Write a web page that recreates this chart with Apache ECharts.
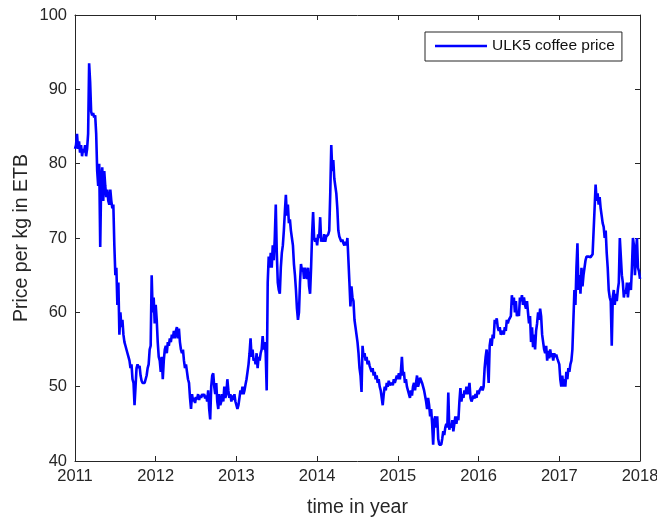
<!DOCTYPE html>
<html>
<head>
<meta charset="utf-8">
<script src="https://cdn.jsdelivr.net/npm/echarts@6/dist/echarts.min.js"></script>
<style>
html,body{margin:0;padding:0;background:#fff;}
#chart{width:657px;height:518px;}
</style>
</head>
<body>
<div id="chart"></div>
<script>
// Sampling dates (decimal years)
const years = [
2011, 2011.0125, 2011.025, 2011.0375, 2011.05, 2011.0625, 2011.075, 2011.0875, 2011.1, 2011.1125, 2011.125, 2011.1375, 2011.15, 2011.1625, 2011.175, 2011.1875, 2011.2, 2011.2125, 2011.225, 2011.2375, 2011.25, 2011.2625, 2011.275, 2011.2875, 2011.3, 2011.3125, 2011.325, 2011.3375, 2011.35, 2011.3625, 2011.375, 2011.3875, 2011.4, 2011.4125, 2011.425, 2011.4375, 2011.45, 2011.4625, 2011.475, 2011.4875, 2011.5, 2011.5125, 2011.525, 2011.5375, 2011.55, 2011.5625, 2011.575, 2011.5875, 2011.6, 2011.6125, 2011.625, 2011.6375, 2011.65, 2011.6625, 2011.675, 2011.6875, 2011.7, 2011.7125, 2011.725, 2011.7375, 2011.75, 2011.7625, 2011.775, 2011.7875, 2011.8, 2011.8125, 2011.825, 2011.8375, 2011.85, 2011.8625, 2011.875, 2011.8875, 2011.9, 2011.9125, 2011.925, 2011.9375, 2011.95, 2011.9625, 2011.975, 2011.9875,
2012, 2012.0125, 2012.025, 2012.0375, 2012.05, 2012.0625, 2012.075, 2012.0875, 2012.1, 2012.1125, 2012.125, 2012.1375, 2012.15, 2012.1625, 2012.175, 2012.1875, 2012.2, 2012.2125, 2012.225, 2012.2375, 2012.25, 2012.2625, 2012.275, 2012.2875, 2012.3, 2012.3125, 2012.325, 2012.3375, 2012.35, 2012.3625, 2012.375, 2012.3875, 2012.4, 2012.4125, 2012.425, 2012.4375, 2012.45, 2012.4625, 2012.475, 2012.4875, 2012.5, 2012.5125, 2012.525, 2012.5375, 2012.55, 2012.5625, 2012.575, 2012.5875, 2012.6, 2012.6125, 2012.625, 2012.6375, 2012.65, 2012.6625, 2012.675, 2012.6875, 2012.7, 2012.7125, 2012.725, 2012.7375, 2012.75, 2012.7625, 2012.775, 2012.7875, 2012.8, 2012.8125, 2012.825, 2012.8375, 2012.85, 2012.8625, 2012.875, 2012.8875, 2012.9, 2012.9125, 2012.925, 2012.9375, 2012.95, 2012.9625, 2012.975, 2012.9875,
2013, 2013.0125, 2013.025, 2013.0375, 2013.05, 2013.0625, 2013.075, 2013.0875, 2013.1, 2013.1125, 2013.125, 2013.1375, 2013.15, 2013.1625, 2013.175, 2013.1875, 2013.2, 2013.2125, 2013.225, 2013.2375, 2013.25, 2013.2625, 2013.275, 2013.2875, 2013.3, 2013.3125, 2013.325, 2013.3375, 2013.35, 2013.3625, 2013.375, 2013.3875, 2013.4, 2013.4125, 2013.425, 2013.4375, 2013.45, 2013.4625, 2013.475, 2013.4875, 2013.5, 2013.5125, 2013.525, 2013.5375, 2013.55, 2013.5625, 2013.575, 2013.5875, 2013.6, 2013.6125, 2013.625, 2013.6375, 2013.65, 2013.6625, 2013.675, 2013.6875, 2013.7, 2013.7125, 2013.725, 2013.7375, 2013.75, 2013.7625, 2013.775, 2013.7875, 2013.8, 2013.8125, 2013.825, 2013.8375, 2013.85, 2013.8625, 2013.875, 2013.8875, 2013.9, 2013.9125, 2013.925, 2013.9375, 2013.95, 2013.9625, 2013.975, 2013.9875,
2014, 2014.0125, 2014.025, 2014.0375, 2014.05, 2014.0625, 2014.075, 2014.0875, 2014.1, 2014.1125, 2014.125, 2014.1375, 2014.15, 2014.1625, 2014.175, 2014.1875, 2014.2, 2014.2125, 2014.225, 2014.2375, 2014.25, 2014.2625, 2014.275, 2014.2875, 2014.3, 2014.3125, 2014.325, 2014.3375, 2014.35, 2014.3625, 2014.375, 2014.3875, 2014.4, 2014.4125, 2014.425, 2014.4375, 2014.45, 2014.4625, 2014.475, 2014.4875, 2014.5, 2014.5125, 2014.525, 2014.5375, 2014.55, 2014.5625, 2014.575, 2014.5875, 2014.6, 2014.6125, 2014.625, 2014.6375, 2014.65, 2014.6625, 2014.675, 2014.6875, 2014.7, 2014.7125, 2014.725, 2014.7375, 2014.75, 2014.7625, 2014.775, 2014.7875, 2014.8, 2014.8125, 2014.825, 2014.8375, 2014.85, 2014.8625, 2014.875, 2014.8875, 2014.9, 2014.9125, 2014.925, 2014.9375, 2014.95, 2014.9625, 2014.975, 2014.9875,
2015, 2015.0125, 2015.025, 2015.0375, 2015.05, 2015.0625, 2015.075, 2015.0875, 2015.1, 2015.1125, 2015.125, 2015.1375, 2015.15, 2015.1625, 2015.175, 2015.1875, 2015.2, 2015.2125, 2015.225, 2015.2375, 2015.25, 2015.2625, 2015.275, 2015.2875, 2015.3, 2015.3125, 2015.325, 2015.3375, 2015.35, 2015.3625, 2015.375, 2015.3875, 2015.4, 2015.4125, 2015.425, 2015.4375, 2015.45, 2015.4625, 2015.475, 2015.4875, 2015.5, 2015.5125, 2015.525, 2015.5375, 2015.55, 2015.5625, 2015.575, 2015.5875, 2015.6, 2015.6125, 2015.625, 2015.6375, 2015.65, 2015.6625, 2015.675, 2015.6875, 2015.7, 2015.7125, 2015.725, 2015.7375, 2015.75, 2015.7625, 2015.775, 2015.7875, 2015.8, 2015.8125, 2015.825, 2015.8375, 2015.85, 2015.8625, 2015.875, 2015.8875, 2015.9, 2015.9125, 2015.925, 2015.9375, 2015.95, 2015.9625, 2015.975, 2015.9875,
2016, 2016.0125, 2016.025, 2016.0375, 2016.05, 2016.0625, 2016.075, 2016.0875, 2016.1, 2016.1125, 2016.125, 2016.1375, 2016.15, 2016.1625, 2016.175, 2016.1875, 2016.2, 2016.2125, 2016.225, 2016.2375, 2016.25, 2016.2625, 2016.275, 2016.2875, 2016.3, 2016.3125, 2016.325, 2016.3375, 2016.35, 2016.3625, 2016.375, 2016.3875, 2016.4, 2016.4125, 2016.425, 2016.4375, 2016.45, 2016.4625, 2016.475, 2016.4875, 2016.5, 2016.5125, 2016.525, 2016.5375, 2016.55, 2016.5625, 2016.575, 2016.5875, 2016.6, 2016.6125, 2016.625, 2016.6375, 2016.65, 2016.6625, 2016.675, 2016.6875, 2016.7, 2016.7125, 2016.725, 2016.7375, 2016.75, 2016.7625, 2016.775, 2016.7875, 2016.8, 2016.8125, 2016.825, 2016.8375, 2016.85, 2016.8625, 2016.875, 2016.8875, 2016.9, 2016.9125, 2016.925, 2016.9375, 2016.95, 2016.9625, 2016.975, 2016.9875,
2017, 2017.0125, 2017.025, 2017.0375, 2017.05, 2017.0625, 2017.075, 2017.0875, 2017.1, 2017.1125, 2017.125, 2017.1375, 2017.15, 2017.1625, 2017.175, 2017.1875, 2017.2, 2017.2125, 2017.225, 2017.2375, 2017.25, 2017.2625, 2017.275, 2017.2875, 2017.3, 2017.3125, 2017.325, 2017.3375, 2017.35, 2017.3625, 2017.375, 2017.3875, 2017.4, 2017.4125, 2017.425, 2017.4375, 2017.45, 2017.4625, 2017.475, 2017.4875, 2017.5, 2017.5125, 2017.525, 2017.5375, 2017.55, 2017.5625, 2017.575, 2017.5875, 2017.6, 2017.6125, 2017.625, 2017.6375, 2017.65, 2017.6625, 2017.675, 2017.6875, 2017.7, 2017.7125, 2017.725, 2017.7375, 2017.75, 2017.7625, 2017.775, 2017.7875, 2017.8, 2017.8125, 2017.825, 2017.8375, 2017.85, 2017.8625, 2017.875, 2017.8875, 2017.9, 2017.9125, 2017.925, 2017.9375, 2017.95, 2017.9625, 2017.975, 2017.9875,
2018
];

// ULK5 coffee price (ETB per kg)
const prices = [
82, 82.5, 84, 82, 83, 81.5, 82.5, 81, 82, 81.5, 82.5, 81, 82, 84, 93.5, 91, 87, 86.5, 86.8, 86.2,
86.5, 84, 79, 77, 80, 68.8, 78, 79.5, 75, 79, 77, 75.5, 76.5, 75, 74.5, 76.5, 75, 74, 74.5, 69,
65, 66, 61, 64, 57, 60, 58, 59, 57, 56, 55.5, 55, 54.5, 54, 53.5, 52.5, 53, 51, 50.5, 47.5,
50, 52.5, 53, 52.5, 52.8, 51.5, 50.8, 50.5, 50.7, 50.5, 51, 51.5, 52.5, 53, 55, 55.5, 65, 60, 62, 58.5,
61, 59, 56, 54, 53.5, 52, 54, 51, 53.5, 55, 55.5, 54.5, 56, 55.5, 56.5, 56, 57, 56.5, 57.5, 56.5,
57.5, 58, 56.5, 57.8, 56, 55, 54.5, 55, 53.5, 52.5, 53, 52, 51, 50.5, 48.5, 47, 49, 48, 48.5, 47.8,
48.6, 48.3, 49, 48.2, 48.8, 48.5, 49, 48.7, 49, 48.4, 48.8, 48, 49.5, 47, 45.6, 50, 51.5, 51.8, 50, 49,
50.5, 48, 47, 49, 47.5, 48, 49, 48, 50, 48.5, 49, 51, 49.5, 48.5, 49, 48, 48.8, 48.2, 49, 48,
47.5, 47, 47.5, 48.5, 49.5, 49, 50, 49, 49.5, 50.3, 51, 52, 53, 54.5, 56.5, 54, 55, 53.5, 53.8, 53,
54.5, 52.5, 54, 53.5, 54.5, 55, 56.8, 55, 56, 54.5, 49.5, 64, 67.5, 66, 68, 66, 69, 67, 70, 74.5,
68, 64, 63, 62.5, 66, 68, 69, 71, 73.5, 75.8, 73, 74.5, 72, 72.5, 71, 70, 69, 66.5, 65, 63,
60.5, 59, 60, 64, 66.5, 65.5, 66, 64.5, 66, 65, 64.5, 66, 63.5, 62.5, 66, 70.5, 73.5, 70, 69.5, 70,
69, 70.5, 70, 72.8, 69.5, 70, 69.5, 70.5, 69.5, 70.2, 70, 70.5, 71, 76, 82.5, 79, 80.5, 78, 77, 76,
74, 71, 70.2, 70, 69.5, 69.8, 69.3, 69, 69.5, 69, 70, 67, 64, 60.8, 63.5, 62, 61.5, 59, 58, 57,
56, 54.5, 52.5, 51.5, 49.3, 55.5, 54, 54.5, 53.5, 54, 53, 53.5, 52.8, 53, 52, 52.5, 51.5, 52, 51, 51.5,
50.5, 51, 50, 49.5, 48.5, 47.5, 49, 50, 49.5, 50.5, 50, 50.8, 50.2, 50, 50.5, 50.2, 51, 50.5, 51, 51.5,
51, 51.8, 51, 52, 54, 51.5, 52, 50.5, 51, 50, 49.5, 49, 48.5, 49.5, 48.8, 50, 50.5, 49.5, 50.5, 51.5,
50, 50.5, 51.2, 51, 50.5, 50, 49.5, 49.5, 48, 47, 48.5, 47.5, 46, 47, 45, 42.2, 45.5, 46, 44.5, 46,
43, 42.2, 42.3, 42.2, 43, 44, 43.5, 44.5, 45, 44.5, 49.2, 44.2, 45, 44.5, 45.5, 44, 45, 46, 45, 46,
45.5, 48, 49.8, 48, 49, 48.5, 49.5, 49, 50, 49, 49.5, 50.5, 48.5, 48, 48.2, 48.8, 48.4, 49, 48.5, 49.5,
49, 49.5, 49.3, 50, 49.5, 50, 52.5, 54, 55, 53, 50.5, 55.5, 56.5, 55.5, 57, 56.5, 59, 58.5, 59.2, 58,
57.5, 58, 57, 56.8, 57.5, 57, 58, 57.5, 59, 58.5, 59, 58.8, 59.5, 62.3, 61, 62, 60, 61.5, 59.5, 60,
59.5, 62, 61.5, 62.3, 61, 62, 61, 60.5, 61.5, 60, 58.5, 59.5, 56, 58, 55.3, 57, 55, 57.5, 58.5, 60,
59, 60.5, 59.5, 57, 56, 55, 54.5, 55.5, 53.5, 54.8, 53.8, 55, 54, 54.5, 53.5, 54.5, 54, 54.3, 53.8, 54,
53, 51, 50, 51.5, 50, 51, 50, 52, 51, 52.5, 52, 53, 53.5, 55, 59, 63, 61, 66, 69.3, 63,
65, 62.5, 66, 63.5, 65, 66, 67, 67.5, 67.3, 67.5, 67.6, 67.4, 67.5, 67.8, 68, 74, 77.2, 75, 76, 74.5,
75.5, 74, 73, 72, 71.5, 70, 71, 68, 66, 63, 62, 61.5, 55.5, 62, 63, 61, 62.5, 61.5, 63, 64,
70, 70.2, 65, 64, 62, 63, 62.5, 64, 62, 63.5, 64, 63, 66, 70, 69, 65, 68, 70, 66, 65.5,
64.5
];

const seriesName = 'ULK5 coffee price';
const xTicks = [2011, 2018, 1];   // min, max, step
const yTicks = [40, 100, 10];

const data = years.map((y, i) => [y, prices[i]]);

const axisColor = '#262626';
const font = '"Liberation Sans", Arial, Helvetica, sans-serif';

const chart = echarts.init(document.getElementById('chart'), null, {renderer: 'canvas'});
chart.setOption({
  animation: false,
  backgroundColor: '#ffffff',
  textStyle: {fontFamily: font},
  grid: {left: 75, right: 17, top: 15, bottom: 57, containLabel: false, outerBoundsMode: 'none'},
  legend: {
    data: [{name: seriesName, icon: 'rect'}],
    left: 425, top: 32,
    padding: [6, 7, 7, 10],
    itemWidth: 52, itemHeight: 2.5, itemGap: 5,
    borderColor: axisColor, borderWidth: 1,
    backgroundColor: '#ffffff',
    textStyle: {fontSize: 15.5, color: '#111111', fontFamily: font, lineHeight: 16}
  },
  xAxis: [
    {
      type: 'value', min: xTicks[0], max: xTicks[1], interval: xTicks[2], position: 'bottom',
      name: 'time in year', nameLocation: 'middle', nameGap: 37,
      nameTextStyle: {fontSize: 19.5, color: axisColor, fontFamily: font},
      axisLine: {show: true, lineStyle: {color: axisColor, width: 1}},
      axisTick: {show: true, inside: true, length: 5, lineStyle: {color: axisColor}},
      axisLabel: {color: axisColor, fontSize: 16.5, margin: 7, fontFamily: font, formatter: v => String(v)},
      splitLine: {show: false}
    },
    {
      type: 'value', min: xTicks[0], max: xTicks[1], interval: xTicks[2], position: 'top',
      axisLine: {show: true, lineStyle: {color: axisColor, width: 1}},
      axisTick: {show: true, inside: true, length: 5, lineStyle: {color: axisColor}},
      axisLabel: {show: false}, splitLine: {show: false}
    }
  ],
  yAxis: [
    {
      type: 'value', min: yTicks[0], max: yTicks[1], interval: yTicks[2], position: 'left',
      name: 'Price per kg in ETB', nameLocation: 'middle', nameGap: 43, nameRotate: 90,
      nameMoveOverlap: false,
      nameTextStyle: {fontSize: 19.5, color: axisColor, fontFamily: font},
      axisLine: {show: true, lineStyle: {color: axisColor, width: 1}},
      axisTick: {show: true, inside: true, length: 5, lineStyle: {color: axisColor}},
      axisLabel: {color: axisColor, fontSize: 16.5, margin: 8, fontFamily: font, formatter: v => String(v)},
      splitLine: {show: false}
    },
    {
      type: 'value', min: yTicks[0], max: yTicks[1], interval: yTicks[2], position: 'right',
      axisLine: {show: true, lineStyle: {color: axisColor, width: 1}},
      axisTick: {show: true, inside: true, length: 5, lineStyle: {color: axisColor}},
      axisLabel: {show: false}, splitLine: {show: false}
    }
  ],
  series: [{
    name: seriesName,
    type: 'line',
    xAxisIndex: 0, yAxisIndex: 0,
    data: data,
    symbol: 'none',
    sampling: null,
    lineStyle: {color: '#0000ff', width: 2.6},
    itemStyle: {color: '#0000ff'},
    emphasis: {disabled: true}
  }]
});
</script>
</body>
</html>
